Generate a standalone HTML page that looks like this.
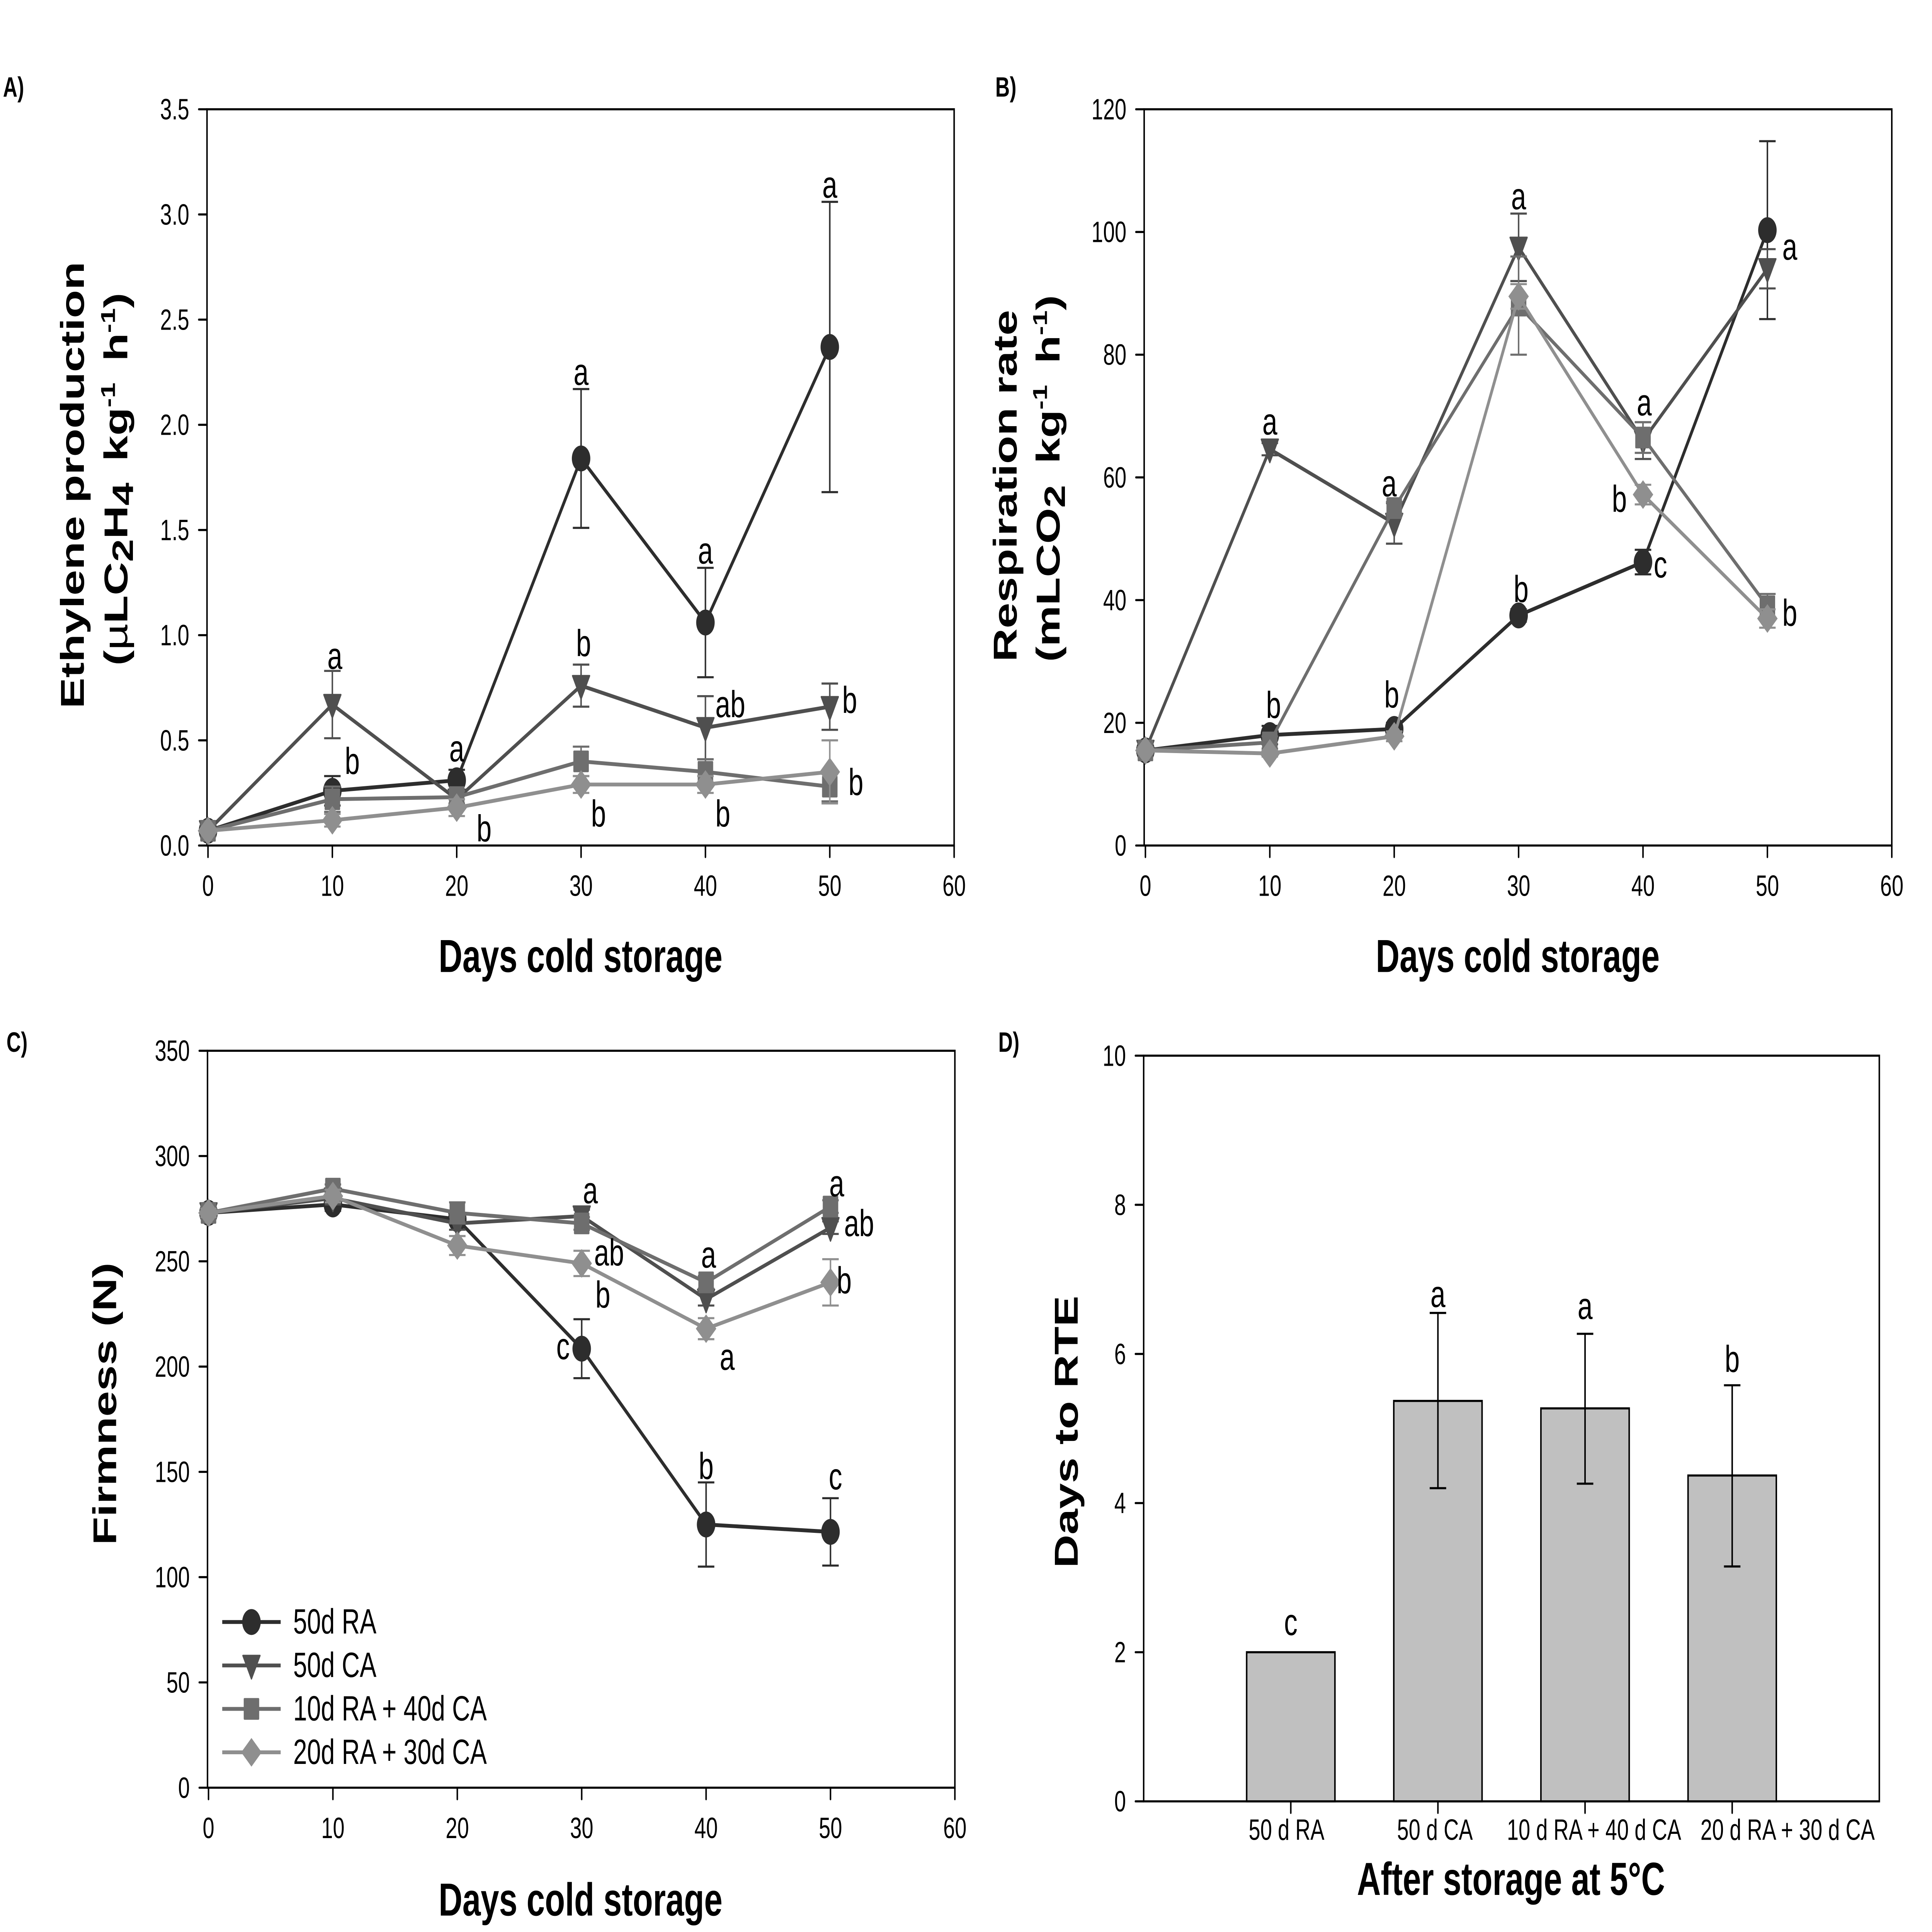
<!DOCTYPE html>
<html lang="en">
<head>
<meta charset="utf-8">
<title>Storage physiology panels</title>
<style>
html,body{margin:0;padding:0;background:#fff;width:100%;height:100%;overflow:hidden;}
svg{display:block;width:100vw;height:100vh;font-family:"Liberation Sans",Arial,sans-serif;}
.title{font-weight:700;font-size:132px;fill:#000;}
.unit{word-spacing:24px;}
.letter{font-weight:700;font-size:80px;fill:#000;}
</style>
</head>
<body>
<svg id="figure" xmlns="http://www.w3.org/2000/svg" viewBox="0 0 7737 5516" preserveAspectRatio="none">
<rect x="0" y="0" width="7737" height="5516" fill="#fff"/>
<text class="letter" x="12" y="276">A)</text>
<text class="letter" x="3986" y="276">B)</text>
<text class="letter" x="26" y="3003">C)</text>
<text class="letter" x="3998" y="3003">D)</text>

<text class="title" text-anchor="middle" transform="translate(336 1385) rotate(-90)">Ethylene production</text>
<text class="title unit" text-anchor="middle" transform="translate(510 1368) rotate(-90)">(<tspan font-weight="400">µ</tspan>LC<tspan dy="22" font-size="118">2</tspan><tspan dy="-22">H</tspan><tspan dy="22" font-size="118">4</tspan><tspan dy="-22"> kg</tspan><tspan dy="-50" font-size="80">-1</tspan><tspan dy="50"> h</tspan><tspan dy="-50" font-size="80">-1</tspan><tspan dy="50">)</tspan></text>
<text class="title" text-anchor="middle" x="2325" y="2775">Days cold storage</text>

<text class="title" text-anchor="middle" transform="translate(4071 1387) rotate(-90)">Respiration rate</text>
<text class="title unit" text-anchor="middle" transform="translate(4243 1366) rotate(-90)">(mLCO<tspan dy="22" font-size="118">2</tspan><tspan dy="-22"> kg</tspan><tspan dy="-50" font-size="80">-1</tspan><tspan dy="50"> h</tspan><tspan dy="-50" font-size="80">-1</tspan><tspan dy="50">)</tspan></text>
<text class="title" text-anchor="middle" x="6078" y="2775">Days cold storage</text>

<text class="title" text-anchor="middle" transform="translate(465 4008) rotate(-90)">Firmness (N)</text>
<text class="title" text-anchor="middle" x="2325" y="5469">Days cold storage</text>

<text class="title" text-anchor="middle" transform="translate(4316 4088) rotate(-90)">Days to RTE</text>
<text class="title" text-anchor="middle" x="6051" y="5410">After storage at 5°C</text>
</svg>
<script>
// ---- shared x data ----
const days = [0, 10, 20, 30, 40, 50];
const dayTickLabels = ['0', '10', '20', '30', '40', '50', '60'];
const seriesNames = ['50d RA', '50d CA', '10d RA + 40d CA', '20d RA + 30d CA'];

// ---- panel A: ethylene ----
const ethyleneTicks = ['0.0', '0.5', '1.0', '1.5', '2.0', '2.5', '3.0', '3.5'];
const ethyleneRA = [0.07, 0.26, 0.31, 1.84, 1.06, 2.37];
const ethyleneRAErr = [0.01, 0.07, 0.05, 0.33, 0.26, 0.69];
const ethyleneCA = [0.07, 0.67, 0.22, 0.76, 0.56, 0.66];
const ethyleneCAErr = [0.01, 0.16, 0.03, 0.10, 0.15, 0.11];
const ethylene10 = [0.07, 0.22, 0.23, 0.40, 0.35, 0.28];
const ethylene10Err = [0.01, 0.06, 0.03, 0.07, 0.06, 0.07];
const ethylene20 = [0.07, 0.12, 0.18, 0.29, 0.29, 0.35];
const ethylene20Err = [0.01, 0.03, 0.04, 0.04, 0.04, 0.15];
const ethyleneLetters = ['a', 'a', 'a', 'a', 'b', 'ab', 'b', 'b', 'a', 'b', 'b', 'b', 'b'];
const ethyleneLetterDays = [50.0, 30.0, 40.0, 10.2, 30.2, 42, 51.6, 11.6, 20, 22.2, 52.1, 31.4, 41.4];
const ethyleneLetterValues = [3.08, 2.19, 1.34, 0.84, 0.90, 0.61, 0.63, 0.34, 0.40, 0.02, 0.24, 0.09, 0.09];

// ---- panel B: respiration ----
const respirationTicks = ['0', '20', '40', '60', '80', '100', '120'];
const respirationRA = [15.5, 18, 19, 37.5, 46.2, 100.3];
const respirationRAErr = [0.5, 1.5, 1, 1, 2, 14.5];
const respirationCA = [15.5, 64.6, 52.5, 97.5, 66, 94];
const respirationCAErr = [0.5, 1, 3.3, 5.5, 3, 3.2];
const respiration10 = [15.5, 16.8, 55, 88, 66.5, 39];
const respiration10Err = [0.5, 1, 1, 8, 2.5, 2];
const respiration20 = [15.5, 15, 17.8, 89.5, 57.2, 37];
const respiration20Err = [0.5, 0.5, 0.8, 2, 1.6, 1.5];
const respirationLetters = ['a', 'a', 'a', 'a', 'b', 'a', 'b', 'c', 'b', 'b', 'b'];
const respirationLetterDays = [30.0, 10, 19.6, 40.1, 38.1, 51.8, 30.2, 41.4, 51.8, 10.3, 19.8];
const respirationLetterValues = [103.7, 67, 56.9, 70.1, 54.4, 95.5, 39.7, 43.7, 35.8, 20.8, 22.5];

// ---- panel C: firmness ----
const firmnessTicks = ['0', '50', '100', '150', '200', '250', '300', '350'];
const firmnessRA = [273, 277, 270, 208.5, 125, 121.5];
const firmnessRAErr = [2, 3, 2, 14, 20, 16];
const firmnessCA = [273, 280, 268, 271.5, 232, 266];
const firmnessCAErr = [2, 3, 3, 3, 3, 3];
const firmness10 = [273, 284.5, 273, 268, 240, 276];
const firmness10Err = [2, 2, 5, 3, 3, 3];
const firmness20 = [273, 281, 257.5, 249, 218, 240];
const firmness20Err = [2, 3, 4.5, 6, 5, 11];
const firmnessLetters = ['a', 'a', 'ab', 'ab', 'a', 'b', 'b', 'a', 'c', 'b', 'c'];
const firmnessLetterDays = [50.5, 30.7, 52.3, 32.2, 40.2, 51.1, 31.7, 41.7, 28.5, 40, 50.4];
const firmnessLetterValues = [280.9, 277.6, 262, 248, 247, 234.8, 228, 198.5, 203.5, 146.6, 141.7];

// ---- panel D: days to RTE ----
const rteCategories = ['50 d RA', '50 d CA', '10 d RA + 40 d CA', '20 d RA + 30 d CA'];
const rteTicks = ['0', '2', '4', '6', '8', '10'];
const rteValues = [2, 5.37, 5.27, 4.37];
const rteUpper = [2, 6.55, 6.27, 5.58];
const rteLower = [2, 4.2, 4.26, 3.15];
const rteLetters = ['c', 'a', 'a', 'b'];
const rteLetterValues = [2.23, 6.63, 6.47, 5.76];

// ---- layout and styles (not data) ----
const NS = 'http://www.w3.org/2000/svg';
const svg = document.getElementById('figure');
const colors = ['#2d2d2d', '#4f4f4f', '#6e6e6e', '#8f8f8f'];
const markerKinds = ['circle', 'triangle', 'square', 'diamond'];
const layoutA = {key: 'a', left: 829, x0: 833, xEnd: 3821, top: 312, bottom: 2414};
const layoutB = {key: 'b', left: 4582, x0: 4587, xEnd: 7576, top: 312, bottom: 2414};
const layoutC = {key: 'c', left: 831, x0: 835, xEnd: 3824, top: 3000, bottom: 5104};
const layoutD = {key: 'd', left: 4580, x0: 4580, xEnd: 7526, top: 3014, bottom: 5143};
const categoryLabelShift = [-17, -12, 36, 222];

function make(parent, tag, attrs, text) {
  const el = document.createElementNS(NS, tag);
  for (const k in attrs) el.setAttribute(k, attrs[k]);
  if (text !== undefined) el.textContent = text;
  parent.appendChild(el);
  return el;
}

function drawMarker(parent, kind, cx, cy, color, name) {
  let el;
  if (kind === 'circle') {
    el = make(parent, 'circle', {cx: cx, cy: cy, r: 37, fill: color});
  } else if (kind === 'triangle') {
    el = make(parent, 'polygon', {points: (cx - 34) + ',' + (cy - 28) + ' ' + (cx + 34) + ',' + (cy - 28) + ' ' + cx + ',' + (cy + 38), fill: color, stroke: color, 'stroke-width': 5, 'stroke-linejoin': 'round'});
  } else if (kind === 'square') {
    el = make(parent, 'rect', {x: cx - 31, y: cy - 31, width: 62, height: 62, rx: 3, fill: color});
  } else {
    el = make(parent, 'polygon', {points: cx + ',' + (cy - 41) + ' ' + (cx + 41) + ',' + cy + ' ' + cx + ',' + (cy + 41) + ' ' + (cx - 41) + ',' + cy, fill: color});
  }
  
  
}

function drawFrameAndYTicks(group, L, yScale, yLabels) {
  const frame = make(group, 'rect', {x: L.left, y: L.top, width: L.xEnd - L.left, height: L.bottom - L.top, fill: 'none', stroke: '#000', 'stroke-width': 6});
  
  
  yLabels.forEach(function (label) {
    const y = yScale(parseFloat(label));
    const tick = make(group, 'line', {x1: L.left - 33, x2: L.left, y1: y, y2: y, stroke: '#000', 'stroke-width': 6, 'stroke-linecap': 'round'});
    
    
    const txt = make(group, 'text', {x: L.left - 71, y: y + 29, 'text-anchor': 'end', 'font-size': 84, fill: '#000'}, label);
    
    
  });
}

function drawLetter(group, label, x, y) {
  const t = make(group, 'text', {x: x, y: y, 'text-anchor': 'middle', 'font-size': 108, fill: '#000'}, label);
  
  
}

function drawLinePanel(L, yMax, yLabels, series, errors, letters, letterDays, letterValues) {
  const group = make(svg, 'g', {});
  
  
  const xScale = function (d) { return L.x0 + d / 60 * (L.xEnd - L.x0); };
  const yScale = function (v) { return L.bottom - v / yMax * (L.bottom - L.top); };
  drawFrameAndYTicks(group, L, yScale, yLabels);
  dayTickLabels.forEach(function (label) {
    const x = xScale(parseFloat(label));
    const tick = make(group, 'line', {x1: x, x2: x, y1: L.bottom, y2: L.bottom + 33, stroke: '#000', 'stroke-width': 6, 'stroke-linecap': 'round'});
    
    
    const txt = make(group, 'text', {x: x, y: L.bottom + 144, 'text-anchor': 'middle', 'font-size': 84, fill: '#000'}, label);
    
    
  });
  series.forEach(function (values, s) {
    const sg = make(group, 'g', {});
    
    
    values.forEach(function (v, i) {
      const x = xScale(days[i]);
      const yU = yScale(v + errors[s][i]);
      const yL = yScale(v - errors[s][i]);
      const bar = make(sg, 'path', {d: 'M' + x + ' ' + yU + 'V' + yL + 'M' + (x - 33) + ' ' + yU + 'H' + (x + 33) + 'M' + (x - 33) + ' ' + yL + 'H' + (x + 33), stroke: colors[s], 'stroke-width': 6, fill: 'none'});
      
      
    });
    const pts = values.map(function (v, i) { return xScale(days[i]) + ',' + yScale(v); }).join(' ');
    const line = make(sg, 'polyline', {points: pts, fill: 'none', stroke: colors[s], 'stroke-width': 11, 'stroke-linejoin': 'round'});
    
    
    values.forEach(function (v, i) {
      drawMarker(sg, markerKinds[s], xScale(days[i]), yScale(v), colors[s], 'data-point');
    });
  });
  letters.forEach(function (label, i) {
    drawLetter(group, label, xScale(letterDays[i]), yScale(letterValues[i]));
  });
  return group;
}

drawLinePanel(layoutA, 3.5, ethyleneTicks,
  [ethyleneRA, ethyleneCA, ethylene10, ethylene20],
  [ethyleneRAErr, ethyleneCAErr, ethylene10Err, ethylene20Err],
  ethyleneLetters, ethyleneLetterDays, ethyleneLetterValues);

drawLinePanel(layoutB, 120, respirationTicks,
  [respirationRA, respirationCA, respiration10, respiration20],
  [respirationRAErr, respirationCAErr, respiration10Err, respiration20Err],
  respirationLetters, respirationLetterDays, respirationLetterValues);

const panelC = drawLinePanel(layoutC, 350, firmnessTicks,
  [firmnessRA, firmnessCA, firmness10, firmness20],
  [firmnessRAErr, firmnessCAErr, firmness10Err, firmness20Err],
  firmnessLetters, firmnessLetterDays, firmnessLetterValues);

// legend in panel C
const legend = make(panelC, 'g', {});


seriesNames.forEach(function (name, s) {
  const y = 4631 + s * 124;
  const entry = make(legend, 'g', {});
  
  
  const key = make(entry, 'line', {x1: 890, x2: 1124, y1: y, y2: y, stroke: colors[s], 'stroke-width': 11});
  
  
  drawMarker(entry, markerKinds[s], 1007, y, colors[s], 'legend-marker');
  const label = make(entry, 'text', {x: 1174, y: y + 33, 'font-size': 100, fill: '#000'}, name);
  
  
});

// panel D bars
(function () {
  const L = layoutD;
  const group = make(svg, 'g', {});
  
  
  const xScale = function (c) { return L.x0 + c / 5 * (L.xEnd - L.x0); };
  const yScale = function (v) { return L.bottom - v / 10 * (L.bottom - L.top); };
  drawFrameAndYTicks(group, L, yScale, rteTicks);
  const barWidth = 0.6 * (L.xEnd - L.x0) / 5;
  rteCategories.forEach(function (cat, i) {
    const x = xScale(i + 1);
    const tick = make(group, 'line', {x1: x, x2: x, y1: L.bottom, y2: L.bottom + 33, stroke: '#000', 'stroke-width': 6, 'stroke-linecap': 'round'});
    
    
    const label = make(group, 'text', {x: x + categoryLabelShift[i], y: L.bottom + 110, 'text-anchor': 'middle', 'font-size': 84, fill: '#000'}, cat);
    
    
    const bar = make(group, 'rect', {x: x - barWidth / 2, y: yScale(rteValues[i]), width: barWidth, height: L.bottom - yScale(rteValues[i]), fill: '#c0c0c0', stroke: '#000', 'stroke-width': 6});
    
    
    if (rteUpper[i] !== rteLower[i]) {
      const yU = yScale(rteUpper[i]);
      const yL = yScale(rteLower[i]);
      const err = make(group, 'path', {d: 'M' + x + ' ' + yU + 'V' + yL + 'M' + (x - 33) + ' ' + yU + 'H' + (x + 33) + 'M' + (x - 33) + ' ' + yL + 'H' + (x + 33), stroke: '#000', 'stroke-width': 6, fill: 'none'});
      
      
    }
    drawLetter(group, rteLetters[i], x, yScale(rteLetterValues[i]));
  });
})();
</script>
</body>
</html>
